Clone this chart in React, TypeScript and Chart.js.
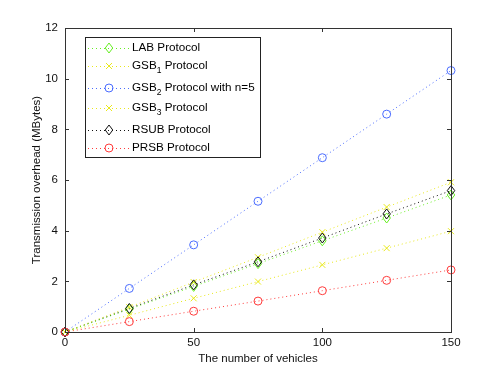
import React, { useEffect, useRef } from "react";
import { Chart, registerables } from "chart.js";

Chart.register(...registerables);

const vehicles = [0, 25, 50, 75, 100, 125, 150];
const labValues = [0, 0.9, 1.8, 2.7, 3.6, 4.5, 5.41];
const gsb1Values = [0, 0.66, 1.33, 1.99, 2.65, 3.31, 3.98];
const gsb2Values = [0, 1.72, 3.44, 5.16, 6.88, 8.6, 10.32];
const gsb3Values = [0, 0.98, 1.97, 2.95, 3.94, 4.93, 5.91];
const rsubValues = [0, 0.93, 1.86, 2.77, 3.71, 4.66, 5.58];
const prsbValues = [0, 0.41, 0.82, 1.22, 1.63, 2.04, 2.45];
const xTicks = [0, 50, 100, 150];
const yTicks = [0, 2, 4, 6, 8, 10, 12];

type Series = { base: string; sub?: string; rest: string; data: number[]; color: string; marker: string; size: number };

const seriesList: Series[] = [
  { base: "LAB Protocol", rest: "", data: labValues, color: "#66ee22", marker: "diamond", size: 5 },
  { base: "GSB", sub: "1", rest: " Protocol", data: gsb1Values, color: "#e8e81a", marker: "x", size: 3 },
  { base: "GSB", sub: "2", rest: " Protocol with n=5", data: gsb2Values, color: "#4a6cff", marker: "circle", size: 4 },
  { base: "GSB", sub: "3", rest: " Protocol", data: gsb3Values, color: "#e8e81a", marker: "x", size: 3 },
  { base: "RSUB Protocol", rest: "", data: rsubValues, color: "#111111", marker: "diamond", size: 5 },
  { base: "PRSB Protocol", rest: "", data: prsbValues, color: "#ff3b3b", marker: "circle", size: 4 },
];

const FONT = "'Liberation Sans', Arial, Helvetica, sans-serif";

function drawMarker(ctx: CanvasRenderingContext2D, kind: string, x: number, y: number, s: number, color: string) {
  ctx.save();
  ctx.strokeStyle = color;
  ctx.lineWidth = 1;
  ctx.setLineDash([]);
  ctx.beginPath();
  if (kind === "circle") {
    ctx.arc(x, y, s, 0, Math.PI * 2);
  } else if (kind === "diamond") {
    ctx.moveTo(x, y - s);
    ctx.lineTo(x + s * 0.75, y);
    ctx.lineTo(x, y + s);
    ctx.lineTo(x - s * 0.75, y);
    ctx.closePath();
  } else {
    ctx.moveTo(x - s, y - s);
    ctx.lineTo(x + s, y + s);
    ctx.moveTo(x + s, y - s);
    ctx.lineTo(x - s, y + s);
  }
  ctx.stroke();
  ctx.restore();
}

const frameAndLegend = {
  id: "frameAndLegend",
  afterDatasetsDraw(chart: any) {
    const ctx: CanvasRenderingContext2D = chart.ctx;
    const { left, right, top, bottom } = chart.chartArea;
    const xs = chart.scales.x;
    const ys = chart.scales.y;
    chart.data.datasets.forEach((ds: any, i: number) => {
      const s = seriesList[i];
      const meta = chart.getDatasetMeta(i);
      meta.data.forEach((pt: any) => drawMarker(ctx, s.marker, pt.x, pt.y, s.size, s.color));
    });
    ctx.save();
    ctx.strokeStyle = "#333333";
    ctx.lineWidth = 1;
    ctx.strokeRect(Math.round(left) + 0.5, Math.round(top) + 0.5, Math.round(right - left), Math.round(bottom - top));
    ctx.beginPath();
    const tl = 4;
    xTicks.forEach((v) => {
      const px = Math.round(xs.getPixelForValue(v)) + 0.5;
      ctx.moveTo(px, bottom);
      ctx.lineTo(px, bottom - tl);
      ctx.moveTo(px, top);
      ctx.lineTo(px, top + tl);
    });
    yTicks.forEach((v) => {
      const py = Math.round(ys.getPixelForValue(v)) + 0.5;
      ctx.moveTo(left, py);
      ctx.lineTo(left + tl, py);
      ctx.moveTo(right, py);
      ctx.lineTo(right - tl, py);
    });
    ctx.stroke();

    const lx = 85, ly = 37, lw = 175, lh = 120;
    ctx.fillStyle = "#ffffff";
    ctx.fillRect(lx, ly, lw, lh);
    ctx.strokeStyle = "#222222";
    ctx.strokeRect(lx + 0.5, ly + 0.5, lw, lh);
    const rows = [48, 66, 88, 108, 130, 148];
    seriesList.forEach((s, i) => {
      const y = rows[i];
      ctx.save();
      ctx.strokeStyle = s.color;
      ctx.setLineDash([1, 3]);
      ctx.beginPath();
      ctx.moveTo(88, y + 0.5);
      ctx.lineTo(130, y + 0.5);
      ctx.stroke();
      ctx.restore();
      drawMarker(ctx, s.marker, 109, y, s.size, s.color);
      ctx.fillStyle = "#000000";
      ctx.textBaseline = "middle";
      ctx.textAlign = "left";
      ctx.font = `11.7px ${FONT}`;
      let tx = 132;
      ctx.fillText(s.base, tx, y);
      tx += ctx.measureText(s.base).width;
      if (s.sub) {
        ctx.font = `8.5px ${FONT}`;
        ctx.fillText(s.sub, tx, y + 5);
        tx += ctx.measureText(s.sub).width;
        ctx.font = `11.7px ${FONT}`;
        ctx.fillText(s.rest, tx, y);
      }
    });
    ctx.restore();
  },
};

export default function App() {
  const ref = useRef<HTMLCanvasElement | null>(null);
  useEffect(() => {
    if (!ref.current) return;
    const chart = new Chart(ref.current, {
      type: "line",
      data: {
        labels: vehicles,
        datasets: seriesList.map((s, i) => ({
          label: s.base + (s.sub || "") + s.rest,
          data: vehicles.map((v, j) => ({ x: v, y: s.data[j] })),
          borderColor: s.color,
          borderWidth: 1,
          borderDash: [1, 3],
          pointRadius: 0,
          fill: false,
          tension: 0,
          order: i,
        })),
      },
      options: {
        animation: false,
        responsive: false,
        maintainAspectRatio: false,
        layout: { padding: { top: 28, right: 47, left: 0, bottom: 0 } },
        plugins: { legend: { display: false }, tooltip: { enabled: false } },
        scales: {
          x: {
            type: "linear",
            min: 0,
            max: 150,
            afterBuildTicks: (sc: any) => { sc.ticks = xTicks.map((v) => ({ value: v })); },
            afterFit: (sc: any) => { sc.height = 43; },
            grid: { display: false, drawTicks: false },
            border: { display: false },
            ticks: { color: "#111", font: { family: FONT, size: 11.5 }, padding: 4, maxRotation: 0 },
            title: { display: true, text: "The number of vehicles", color: "#111", font: { family: FONT, size: 11.5 }, padding: { top: 0, bottom: 9 } },
          },
          y: {
            type: "linear",
            min: 0,
            max: 12,
            afterBuildTicks: (sc: any) => { sc.ticks = yTicks.map((v) => ({ value: v })); },
            afterFit: (sc: any) => { sc.width = 65; },
            grid: { display: false, drawTicks: false },
            border: { display: false },
            ticks: { color: "#111", font: { family: FONT, size: 11.5 }, padding: 7 },
            title: { display: true, text: "Transmission overhead (MBytes)", color: "#111", font: { family: FONT, size: 11.5 }, padding: { top: 30, bottom: 0 } },
          },
        },
      },
      plugins: [frameAndLegend],
    } as any);
    return () => chart.destroy();
  }, []);
  return (
    <div style={{ position: "absolute", left: 0, top: 0, width: 498, height: 375, background: "#fff" }}>
      <canvas ref={ref} width={498} height={375} style={{ width: 498, height: 375 }} />
    </div>
  );
}
